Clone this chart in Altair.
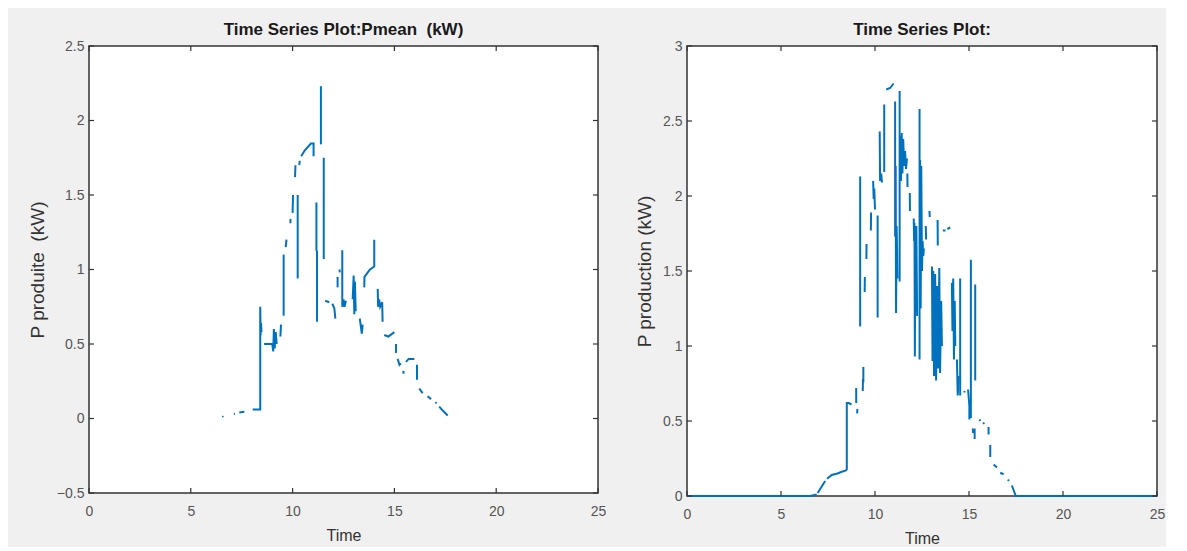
import altair as alt
import pandas as pd

BLUE = "#0072BD"
FONT = "Liberation Sans"

# ---------------- data ----------------
# Left panel: Pmean (kW), drawn as broken pieces of one line
left_piece_time = [
    [6.55, 6.6], [7.12, 7.17], [7.38, 7.63],
    [8.04, 8.41, 8.41, 8.43, 8.45, 8.47],
    [8.6, 9.0, 9.05, 9.08, 9.12, 9.17, 9.22],
    [9.4, 9.43], [9.56, 9.56], [9.66, 9.7], [9.89, 9.9], [10.0, 10.02],
    [10.12, 10.14], [10.25, 10.25], [10.33, 10.35],
    [10.42, 10.6, 10.9, 11.03, 11.03],
    [11.17, 11.17, 11.2, 11.2], [11.39, 11.39], [11.53, 11.53],
    [11.6, 11.8], [11.95, 12.05, 12.1], [12.21, 12.21], [12.3, 12.32],
    [12.44, 12.44, 12.5, 12.55, 12.62],
    [12.95, 13.0, 13.03, 13.06, 13.1],
    [13.3, 13.35, 13.4, 13.44],
    [13.52, 13.53, 13.8, 14.01, 14.01],
    [14.18, 14.2, 14.25, 14.3, 14.4, 14.42],
    [14.5, 14.7, 15.0], [15.08, 15.08], [15.16, 15.25, 15.32],
    [15.44, 15.45], [15.57, 15.7, 15.98], [16.11, 16.11],
    [16.22, 16.39], [16.63, 16.8], [17.04, 17.06], [17.2, 17.4, 17.62],
]
left_piece_power = [
    [0.01, 0.015], [0.03, 0.032], [0.04, 0.045],
    [0.06, 0.06, 0.75, 0.56, 0.64, 0.58],
    [0.5, 0.5, 0.45, 0.6, 0.47, 0.58, 0.5],
    [0.55, 0.63], [0.69, 1.1], [1.15, 1.2], [1.31, 1.34], [1.38, 1.5],
    [1.62, 1.7], [0.94, 1.5], [1.7, 1.73],
    [1.76, 1.8, 1.845, 1.845, 1.76],
    [1.45, 1.13, 1.12, 0.65], [1.84, 2.23], [1.75, 1.07],
    [0.79, 0.78], [0.77, 0.74, 0.67], [0.88, 0.95], [1.0, 0.98],
    [1.13, 0.75, 0.8, 0.75, 0.79],
    [0.8, 0.96, 0.7, 0.92, 0.72],
    [0.67, 0.62, 0.57, 0.63],
    [0.88, 0.95, 1.0, 1.02, 1.2],
    [0.87, 0.75, 0.8, 0.75, 0.78, 0.65],
    [0.56, 0.55, 0.58], [0.5, 0.44], [0.4, 0.36, 0.37],
    [0.3, 0.32], [0.38, 0.4, 0.4], [0.36, 0.26],
    [0.2, 0.17], [0.15, 0.13], [0.11, 0.1], [0.08, 0.05, 0.02],
]

# Right panel: P production (kW)
right_piece_time = [
    [0, 6.55, 6.9], [6.95, 7.15, 7.35],
    [7.45, 7.7, 8.0, 8.2, 8.45, 8.5, 8.5, 8.6, 8.75],
    [9.0, 9.0], [9.05, 9.06], [9.21, 9.21], [9.35, 9.36, 9.38, 9.38],
    [9.45, 9.46], [9.54, 9.55], [9.78, 9.79], [9.9, 9.93, 9.96, 10.0],
    [10.14, 10.14], [10.25, 10.27, 10.33, 10.37], [10.49, 10.49],
    [10.6, 10.8, 10.99],
    [11.07, 11.07, 11.1, 11.12, 11.15, 11.2], [11.31, 11.31],
    [11.34, 11.38, 11.42, 11.46, 11.5, 11.55, 11.6, 11.65, 11.7],
    [11.72, 11.73], [11.85, 11.86],
    [12.06, 12.08, 12.1, 12.12, 12.15, 12.18, 12.2, 12.24],
    [12.37, 12.37],
    [12.4, 12.43, 12.46, 12.5, 12.53, 12.57, 12.6],
    [12.7, 12.72], [12.9, 12.91],
    [13.03, 13.06, 13.1, 13.14, 13.2, 13.25, 13.3, 13.36, 13.42, 13.46, 13.52, 13.56],
    [13.33, 13.34], [13.61, 13.75], [13.85, 14.0],
    [14.09, 14.12, 14.16, 14.2, 14.24, 14.27],
    [14.36, 14.4, 14.45], [14.53, 14.53], [14.75, 14.77],
    [14.95, 15.02, 15.02], [15.1, 15.1], [15.33, 15.33],
    [15.2, 15.22], [15.3, 15.3], [15.56, 15.6], [15.75, 15.81],
    [16.04, 16.04], [16.13, 16.13], [16.31, 16.49], [16.66, 16.84],
    [17.08, 17.12], [17.28, 17.4, 17.46, 17.46, 25],
]
right_piece_power = [
    [0, 0, 0.01], [0.02, 0.06, 0.1],
    [0.115, 0.14, 0.15, 0.16, 0.17, 0.178, 0.62, 0.62, 0.61],
    [0.62, 0.72], [0.55, 0.58], [2.13, 1.13], [0.7, 0.78, 0.76, 0.86],
    [1.36, 1.46], [1.58, 1.68], [1.77, 1.89], [2.1, 1.98, 2.05, 1.91],
    [1.87, 1.19], [2.43, 2.1, 2.15, 2.09], [2.61, 2.16],
    [2.71, 2.72, 2.75],
    [2.63, 1.73, 2.2, 1.22, 1.8, 1.45], [2.7, 1.43],
    [2.4, 2.1, 2.42, 2.15, 2.38, 2.2, 2.3, 2.18, 2.25],
    [2.15, 2.06], [2.02, 1.9],
    [1.85, 1.7, 1.82, 0.93, 1.78, 1.3, 1.8, 1.2],
    [2.58, 0.91],
    [2.24, 1.25, 2.2, 1.5, 1.7, 1.6, 1.65],
    [1.8, 1.71], [1.9, 1.86],
    [1.53, 0.9, 1.5, 0.8, 1.48, 0.77, 1.4, 0.85, 1.52, 0.82, 1.3, 1.0],
    [1.84, 1.67], [1.77, 1.77], [1.78, 1.79],
    [1.42, 1.1, 1.45, 0.91, 1.3, 1.0],
    [0.91, 0.67, 0.8], [1.45, 0.67], [0.69, 0.7],
    [0.71, 0.6, 0.51], [1.575, 0.52], [1.41, 0.77],
    [0.45, 0.42], [0.38, 0.45], [0.51, 0.5], [0.49, 0.48],
    [0.46, 0.41], [0.34, 0.26], [0.21, 0.19], [0.155, 0.145],
    [0.11, 0.1], [0.07, 0.03, 0.01, 0, 0],
]

x_ticks = [0, 5, 10, 15, 20, 25]
left_y_ticks = [-0.5, 0, 0.5, 1, 1.5, 2, 2.5]
right_y_ticks = [0, 0.5, 1, 1.5, 2, 2.5, 3]


def to_frame(times, powers):
    rows = []
    k = 0
    for pid, (ts, vs) in enumerate(zip(times, powers)):
        for t, v in zip(ts, vs):
            rows.append({"piece": pid, "i": k, "t": t, "v": v})
            k += 1
    return pd.DataFrame(rows)


def panel(df, ydom, yticks, W, H, title, ytitle, extent, tpad):
    xs = alt.Scale(domain=[0, 25], nice=False, zero=False)
    ys = alt.Scale(domain=ydom, nice=False, zero=False)
    xaxis = alt.Axis(values=x_ticks, format="~g", title="Time", grid=False,
                     ticks=False, domain=False, labelFlush=False,
                     labelOverlap=False, labelPadding=11, titlePadding=9,
                     labelFontSize=14, titleFontSize=16, labelColor="#555555",
                     titleColor="#333333", titleFontWeight="normal",
                     labelFont=FONT, titleFont=FONT)
    yaxis = alt.Axis(values=yticks, format="~g", title=ytitle, grid=False,
                     ticks=False, domain=False, labelFlush=False,
                     labelOverlap=False, labelPadding=5, titlePadding=tpad,
                     minExtent=extent, maxExtent=extent,
                     labelFontSize=14, titleFontSize=19, labelColor="#555555",
                     titleColor="#333333", titleFontWeight="normal",
                     labelFont=FONT, titleFont=FONT)
    X = alt.X("t:Q", scale=xs, axis=xaxis)
    Y = alt.Y("v:Q", scale=ys, axis=yaxis)
    line = alt.Chart(df).mark_line(color=BLUE, strokeWidth=2).encode(
        x=X, y=Y, detail="piece:N", order=alt.Order("i:Q"),
    )
    xt = pd.DataFrame({"t": x_ticks})
    yt = pd.DataFrame({"v": yticks})
    tick_style = dict(color="#333333", strokeWidth=1.2)
    bottom = alt.Chart(xt).mark_rule(**tick_style).encode(
        x=X, y=alt.value(H), y2=alt.value(H - 5))
    top = alt.Chart(xt).mark_rule(**tick_style).encode(
        x=X, y=alt.value(0), y2=alt.value(5))
    left = alt.Chart(yt).mark_rule(**tick_style).encode(
        y=Y, x=alt.value(0), x2=alt.value(5))
    right = alt.Chart(yt).mark_rule(**tick_style).encode(
        y=Y, x=alt.value(W), x2=alt.value(W - 5))
    return alt.layer(line, bottom, top, left, right).properties(
        width=W, height=H,
        title=alt.TitleParams(text=title, fontSize=17, fontWeight="bold",
                              font=FONT, color="#1a1a1a", frame="group",
                              anchor="middle", offset=0),
    )


left_df = to_frame(left_piece_time, left_piece_power)
right_df = to_frame(right_piece_time, right_piece_power)

left_chart = panel(left_df, [-0.5, 2.5], left_y_ticks, 509, 447,
                   "Time Series Plot:Pmean \u00a0(kW)", "P produite \u00a0(kW)", 30, 12)
right_chart = panel(right_df, [0, 3], right_y_ticks, 470, 450,
                    "Time Series Plot:", "P production (kW)", 24, 9)

chart = alt.hconcat(left_chart, right_chart, spacing=27).properties(
    padding={"left": 19, "top": 12, "right": 0, "bottom": 0}
).configure(background="#f0f0f0").configure_view(
    stroke="#333333", strokeWidth=1.5, fill="white"
)

chart.save("out.html", embed_options={"renderer": "svg", "actions": False})
